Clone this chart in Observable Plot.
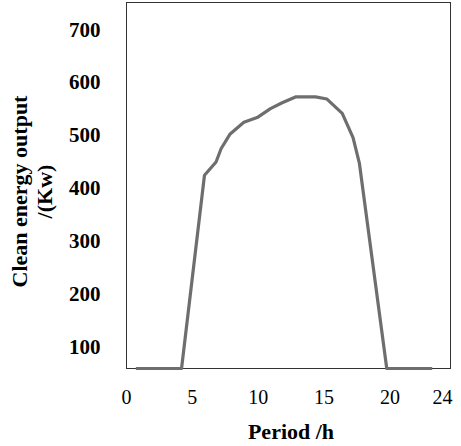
<!DOCTYPE html>
<html>
<head>
<meta charset="utf-8">
<script src="https://cdn.jsdelivr.net/npm/d3@7"></script>
<script src="https://cdn.jsdelivr.net/npm/@observablehq/plot@0.6"></script>
<style>
  html, body { margin: 0; padding: 0; background: #fff; }
  svg { display: block; }
</style>
</head>
<body>
<div id="chart"></div>
<script>
// Data
const hours  = [0.71, 4.18, 5.92, 6.80, 7.18, 7.87, 8.91, 9.92, 10.93, 11.82, 12.83, 14.35, 15.22, 16.38, 17.20, 17.68, 19.76, 23.21];
const output = [0,    0,    425,  450,  475,  503,  525,  534,  551,   562,   573,   573,   569,   542,   496,   448,   0,     0];
const xTicks = [0, 5, 10, 15, 20, 24];
const yTicks = [100, 200, 300, 400, 500, 600, 700];
const xTitle = "Period /h";
const yTitle = "Clean energy output\n/(Kw)";

const data = hours.map((h, i) => ({hour: h, value: output[i]}));
const serif = "'Liberation Serif', 'DejaVu Serif', serif";

const chart = Plot.plot({
  width: 461,
  height: 446,
  marginLeft: 126,
  marginRight: 11,
  marginTop: 2,
  marginBottom: 78,
  style: {fontFamily: serif, background: "#fff", color: "#000"},
  x: {domain: [0, 24.6], ticks: xTicks, axis: null},
  y: {domain: [59.4, 751.6], clamp: true, axis: null},
  marks: [
    Plot.axisX({ticks: xTicks, tickSize: 0, tickPadding: 21, fontSize: 20, label: null, fill: "#000"}),
    Plot.axisY({ticks: yTicks, tickSize: 0, tickPadding: 26, fontSize: 21, fontWeight: "bold", label: null, fill: "#000"}),
    Plot.frame({stroke: "#333", strokeWidth: 1}),
    Plot.line(data, {x: "hour", y: "value", stroke: "#6e6e6e", strokeWidth: 3.2, strokeLinecap: "butt", strokeLinejoin: "round"}),
    Plot.text([xTitle], {frameAnchor: "bottom", dx: 2.5, dy: 70, fontSize: 22, fontWeight: "bold", fill: "#000"}),
    Plot.text([yTitle], {frameAnchor: "left", textAnchor: "middle", dx: -95, dy: 6, rotate: -90, fontSize: 22, fontWeight: "bold", lineHeight: 1.14, fill: "#000"})
  ]
});
document.getElementById("chart").appendChild(chart);
</script>
</body>
</html>
